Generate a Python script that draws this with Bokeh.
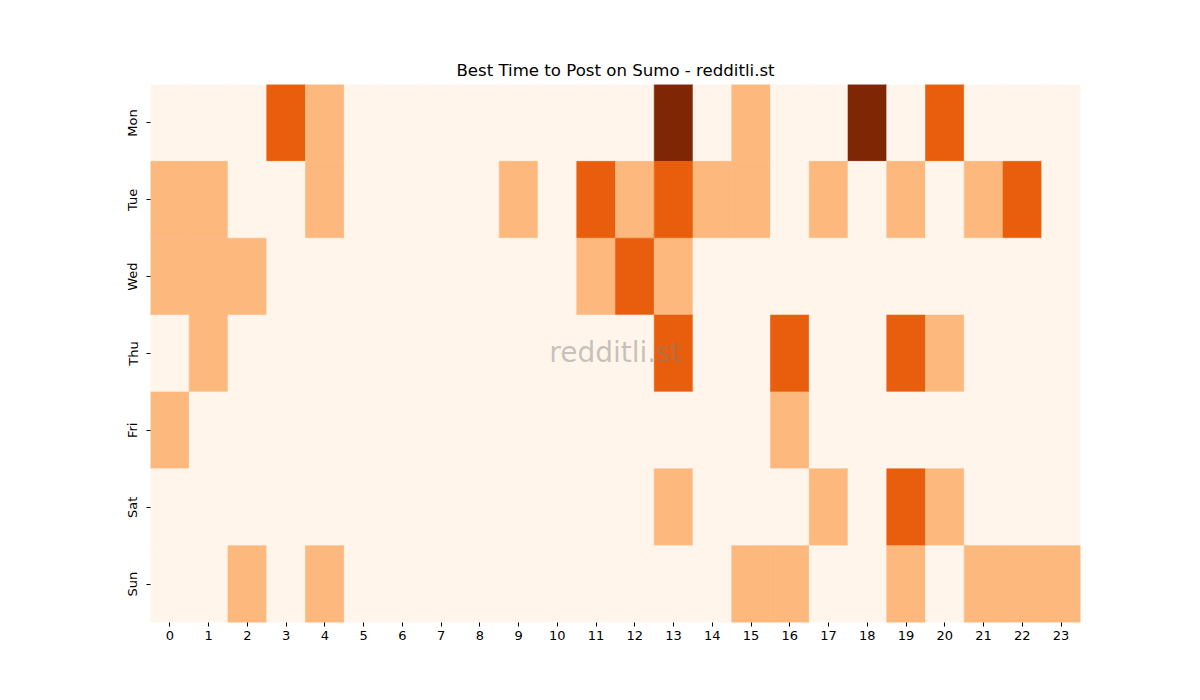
import math
from bokeh.plotting import figure
from bokeh.models import FactorRange, Label, ColumnDataSource
from bokeh.embed import file_html
from bokeh.resources import INLINE

days = ["Mon", "Tue", "Wed", "Thu", "Fri", "Sat", "Sun"]
hours = [str(h) for h in range(24)]

# activity level per day (rows) and hour (columns), 0..3
mon = [0, 0, 0, 2, 1, 0, 0, 0, 0, 0, 0, 0, 0, 3, 0, 1, 0, 0, 3, 0, 2, 0, 0, 0]
tue = [1, 1, 0, 0, 1, 0, 0, 0, 0, 1, 0, 2, 1, 2, 1, 1, 0, 1, 0, 1, 0, 1, 2, 0]
wed = [1, 1, 1, 0, 0, 0, 0, 0, 0, 0, 0, 1, 2, 1, 0, 0, 0, 0, 0, 0, 0, 0, 0, 0]
thu = [0, 1, 0, 0, 0, 0, 0, 0, 0, 0, 0, 0, 0, 2, 0, 0, 2, 0, 0, 2, 1, 0, 0, 0]
fri = [1, 0, 0, 0, 0, 0, 0, 0, 0, 0, 0, 0, 0, 0, 0, 0, 1, 0, 0, 0, 0, 0, 0, 0]
sat = [0, 0, 0, 0, 0, 0, 0, 0, 0, 0, 0, 0, 0, 1, 0, 0, 0, 1, 0, 2, 1, 0, 0, 0]
sun = [0, 0, 1, 0, 1, 0, 0, 0, 0, 0, 0, 0, 0, 0, 0, 1, 1, 0, 0, 1, 0, 1, 1, 1]
rows = [mon, tue, wed, thu, fri, sat, sun]

palette = ["#fff5eb", "#fdb97d", "#e95e0d", "#7f2704"]

xs, ys, cs = [], [], []
for d, row in zip(days, rows):
    for h, v in zip(hours, row):
        xs.append(h)
        ys.append(d)
        cs.append(palette[v])
src = ColumnDataSource(dict(x=xs, y=ys, c=cs))

W, H = 1184, 684
p = figure(width=W, height=H, output_backend="svg", toolbar_location=None,
           x_range=FactorRange(*hours, range_padding=0),
           y_range=FactorRange(*list(reversed(days)), range_padding=0),
           min_border_left=150, min_border_right=104, min_border_top=84, min_border_bottom=62,
           title="Best Time to Post on Sumo - redditli.st")
p.rect(x="x", y="y", width=1, height=1, source=src, fill_color="c",
       line_color="c", line_width=0.6)

p.title.align = "center"
p.title.text_font = "DejaVu Sans"
p.title.text_font_size = "16.6px"
p.title.text_font_style = "normal"
p.title.text_color = "#000000"

for ax in (p.xaxis, p.yaxis):
    ax.axis_line_color = None
    ax.major_tick_in = 0
    ax.major_tick_out = 4
    ax.major_tick_line_color = "#000000"
    ax.minor_tick_line_color = None
    ax.major_label_text_font = "DejaVu Sans"
    ax.major_label_text_font_size = "13px"
    ax.major_label_text_color = "#000000"
    ax.major_label_standoff = 4
p.yaxis.major_label_orientation = "vertical"
p.yaxis.major_label_standoff = 6
p.xgrid.grid_line_color = None
p.ygrid.grid_line_color = None
p.outline_line_color = None

# watermark, positioned relative to the plot frame
p.add_layout(Label(x=465, y=270, x_units="screen", y_units="screen",
                   text="redditli.st", text_align="center", text_baseline="middle",
                   text_font="DejaVu Sans", text_font_size="28px",
                   text_color="#808080", text_alpha=0.45))

open("out.html", "w").write(file_html(p, INLINE))
